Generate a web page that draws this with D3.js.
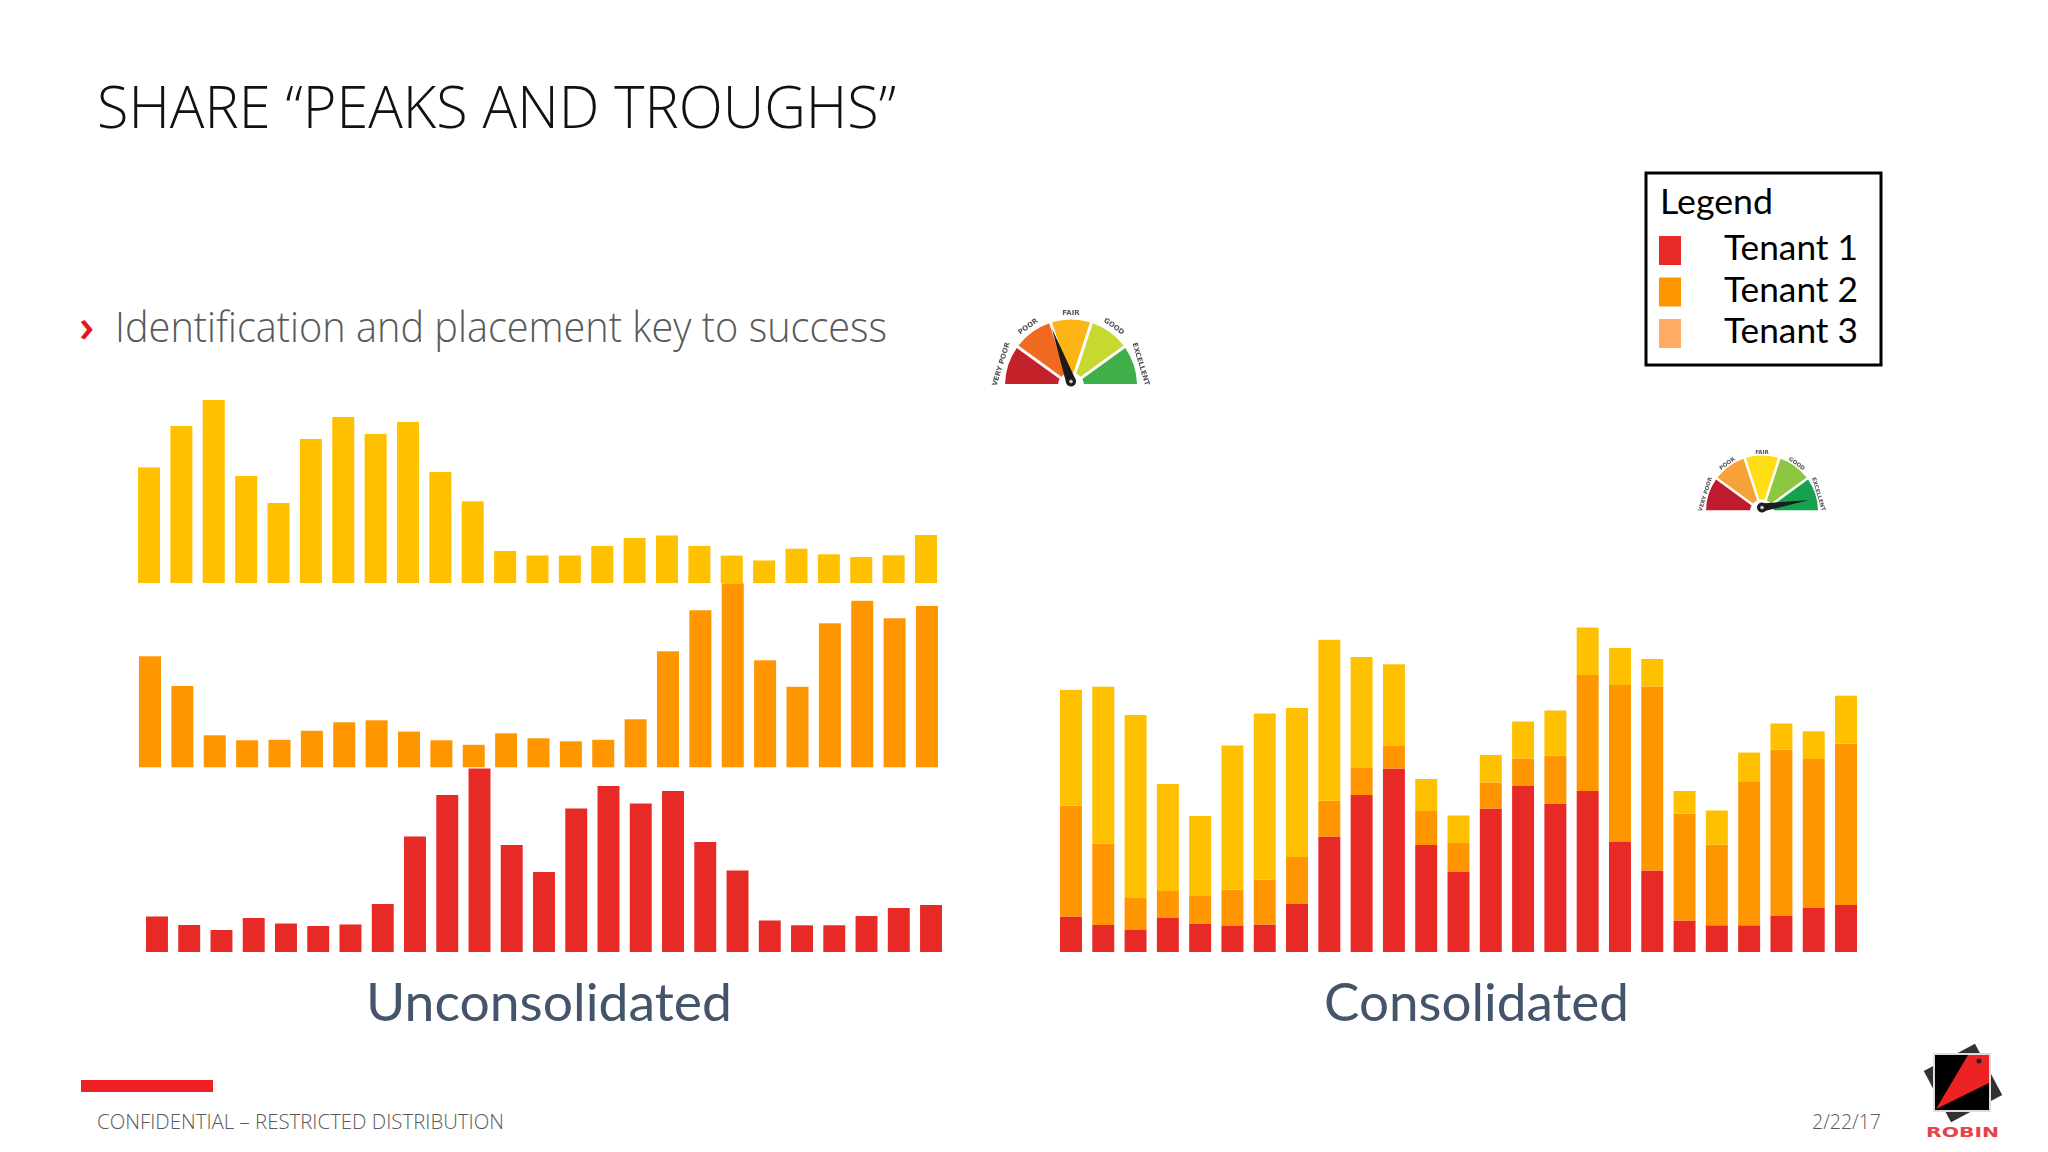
<!DOCTYPE html>
<html>
<head>
<meta charset="utf-8">
<title>Share peaks and troughs</title>
<script src="https://cdn.jsdelivr.net/npm/d3@7/dist/d3.min.js"></script>
<style>
    html, body { margin: 0; padding: 0; background: #fff; }
    svg { display: block; }
</style>
</head>
<body>
<div id="slide"></div>
<script>
// chart values
const periods = d3.range(1, 26);
const tenant1 = [35.5, 27, 22, 34, 28.5, 26, 27.5, 48, 115.5, 157, 183.5, 107, 80, 143.5, 166, 148.5, 161, 110, 81.5, 31.5, 26.7, 26.7, 36, 44, 47];
const tenant2 = [111, 81.3, 32, 27, 27.5, 36.5, 45, 47, 35.7, 27, 22.5, 34, 29, 26, 27.5, 48, 116, 157, 184, 107, 80.5, 144, 166.5, 149, 161.3];
const tenant3 = [115.6, 157, 183, 107, 80, 144, 166, 149, 161, 111, 81.7, 32, 27.5, 27.5, 37, 45, 47.5, 37, 27.5, 22.5, 34.3, 28.7, 26, 27.7, 48];

const tenantNames = ["Tenant 1", "Tenant 2", "Tenant 3"];
const gaugeLabels = ["VERY POOR", "POOR", "FAIR", "GOOD", "EXCELLENT"];
const gaugeReadings = [1.95, 4.75];  // needle position, 0 to 5 segments

const tenantColors = ["#e72a25", "#ff9600", "#ffc000"];
const legendColors = ["#e72a25", "#ff9600", "#ffab66"];

const svgWidth = 2048;
const svgHeight = 1152;

var svg = d3.select("#slide")
    .append("svg")
    .attr("width", svgWidth)
    .attr("height", svgHeight)
    .attr("viewBox", `0 0 ${svgWidth} ${svgHeight}`);

svg.append("rect")
    .attr("width", svgWidth)
    .attr("height", svgHeight)
    .attr("fill", "#fff");

var defs = svg.append("defs");
defs.append("filter")
    .attr("id", "soft")
    .append("feGaussianBlur")
    .attr("stdDeviation", 0.45);

// ------- TEXT HELPER --------
function addText(str, opts) {
    var t = svg.append("text")
        .attr("x", opts.x)
        .attr("y", opts.y)
        .attr("font-family", opts.family || "'Open Sans', sans-serif")
        .attr("font-weight", opts.weight || 300)
        .attr("font-size", opts.size)
        .attr("fill", opts.fill || "#000")
        .text(str);
    if (opts.width) {
        t.attr("textLength", opts.width).attr("lengthAdjust", "spacingAndGlyphs");
    }
    return t;
}

addText("SHARE “PEAKS AND TROUGHS”", { x: 97, y: 128, size: 59, width: 799, fill: "#111" });
addText("›", { x: 79, y: 342, size: 46, weight: 600, fill: "#e8141c" });
addText("Identification and placement key to success", { x: 115, y: 342, size: 42, width: 772, fill: "#595959" });

// ------- BAR PANELS --------
function xScale(left, right) {
    return d3.scaleBand()
        .domain(periods)
        .range([left, right])
        .paddingInner(0.32);
}

function yScale(baseline) {
    return d3.scaleLinear()
        .domain([0, 200])
        .range([baseline, baseline - 200]);
}

function singlePanel(values, color, left, right, baseline) {
    var x = xScale(left, right);
    var y = yScale(baseline);
    svg.append("g")
        .selectAll("rect")
        .data(values)
        .enter()
        .append("rect")
        .attr("x", (d, i) => x(periods[i]))
        .attr("y", d => y(d))
        .attr("width", x.bandwidth())
        .attr("height", d => y(0) - y(d))
        .attr("fill", color);
}

singlePanel(tenant3, tenantColors[2], 138, 937, 583);
singlePanel(tenant2, tenantColors[1], 139, 938, 767.3);
singlePanel(tenant1, tenantColors[0], 146, 942, 952);

// consolidated stack
var rows = periods.map((p, i) => ({ period: p, t1: tenant1[i], t2: tenant2[i], t3: tenant3[i] }));
var stacked = d3.stack().keys(["t1", "t2", "t3"])(rows);
var xStack = xScale(1060, 1857);
var yStack = d3.scaleLinear().domain([0, 400]).range([952, 552]);

svg.append("g")
    .selectAll("g")
    .data(stacked)
    .enter()
    .append("g")
    .attr("fill", (d, i) => tenantColors[i])
    .selectAll("rect")
    .data(d => d)
    .enter()
    .append("rect")
    .attr("x", d => xStack(d.data.period))
    .attr("y", d => yStack(d[1]))
    .attr("width", xStack.bandwidth())
    .attr("height", d => yStack(d[0]) - yStack(d[1]));

const labelFont = "Lato, sans-serif";
addText("Unconsolidated", { x: 366, y: 1021, size: 52, weight: 400, family: labelFont, width: 366, fill: "#44546a" });
addText("Consolidated", { x: 1324, y: 1021, size: 52, weight: 400, family: labelFont, width: 305, fill: "#44546a" });

// ------- LEGEND --------
svg.append("rect")
    .attr("x", 1646)
    .attr("y", 173)
    .attr("width", 235)
    .attr("height", 192)
    .attr("fill", "#fff")
    .attr("stroke", "#000")
    .attr("stroke-width", 3);

addText("Legend", { x: 1660, y: 214, size: 34, weight: 400, family: labelFont, width: 113 });

var legendY = d3.scalePoint().domain(tenantNames).range([248, 331]);

var legendRows = svg.append("g")
    .selectAll("g")
    .data(tenantNames)
    .enter()
    .append("g")
    .attr("transform", d => `translate(0, ${legendY(d)})`);

legendRows.append("rect")
    .attr("x", 1659)
    .attr("y", -12)
    .attr("width", 22)
    .attr("height", 29)
    .attr("fill", (d, i) => legendColors[i]);

legendRows.append("text")
    .attr("x", 1724)
    .attr("y", 12)
    .attr("font-family", labelFont)
    .attr("font-size", 34)
    .attr("textLength", 134)
    .attr("lengthAdjust", "spacingAndGlyphs")
    .attr("fill", "#000")
    .text(d => d);

// ------- GAUGES --------
function drawGauge(cx, cy, outer, inner, colors, reading, fontSize, labelGap, needleWidth) {
    var g = svg.append("g")
        .attr("transform", `translate(${cx}, ${cy})`)
        .attr("filter", "url(#soft)");

    var angle = d3.scaleLinear().domain([0, 5]).range([-Math.PI / 2, Math.PI / 2]);
    var arc = d3.arc()
        .innerRadius(inner)
        .outerRadius(outer)
        .padAngle(0.045)
        .padRadius(outer);

    g.selectAll("path.segment")
        .data(gaugeLabels)
        .enter()
        .append("path")
        .attr("class", "segment")
        .attr("d", (d, i) => arc({ startAngle: angle(i), endAngle: angle(i + 1) }))
        .attr("fill", (d, i) => colors[i]);

    // segment labels sit outside the rim
    g.selectAll("text")
        .data(gaugeLabels)
        .enter()
        .append("text")
        .attr("transform", (d, i) => {
            var deg = (angle(i + 0.5) * 180) / Math.PI;
            if (i == 0) deg = -73;
            if (i == 4) deg = 73;
            return `rotate(${deg}) translate(0, ${-outer - labelGap})`;
        })
        .attr("text-anchor", "middle")
        .attr("font-family", "'DejaVu Sans', sans-serif")
        .attr("font-weight", 700)
        .attr("font-size", fontSize)
        .attr("fill", "#555")
        .text(d => d);

    // needle
    var deg = (angle(reading) * 180) / Math.PI;
    var len = outer * 0.85;
    g.append("g")
        .attr("transform", `translate(0, -4) rotate(${deg})`)
        .call(n => {
            n.append("path")
                .attr("d", d3.line()([[-needleWidth, 0], [0, -len], [needleWidth, 0]]))
                .attr("fill", "#1a1a1a");
            n.append("circle")
                .attr("r", 5)
                .attr("fill", "#1a1a1a");
            n.append("circle")
                .attr("r", 1.8)
                .attr("fill", "#ccc");
        });
}

drawGauge(1071, 385.5, 66, 13, ["#c4202a", "#f26a21", "#fdb515", "#c5d92d", "#3fae49"], gaugeReadings[0], 7, 5, 5);
drawGauge(1762, 511.5, 56, 12, ["#be1e2d", "#f7a13a", "#ffde17", "#8dc63f", "#12a150"], gaugeReadings[1], 5.5, 1.5, 4);

// ------- FOOTER --------
svg.append("rect")
    .attr("x", 81)
    .attr("y", 1080)
    .attr("width", 132)
    .attr("height", 12)
    .attr("fill", "#ed2024");

addText("CONFIDENTIAL – RESTRICTED DISTRIBUTION", { x: 97, y: 1129, size: 21, width: 407, fill: "#595959" });
addText("2/22/17", { x: 1812, y: 1129, size: 21, width: 69, fill: "#595959" });

// ------- LOGO --------
var logo = svg.append("g").attr("filter", "url(#soft)");
logo.append("rect")
    .attr("x", 1934)
    .attr("y", 1054)
    .attr("width", 58)
    .attr("height", 58)
    .attr("fill", "#333")
    .attr("transform", "rotate(-28 1963 1083)");
logo.append("rect")
    .attr("x", 1933)
    .attr("y", 1053)
    .attr("width", 58)
    .attr("height", 59)
    .attr("fill", "#ddd");
logo.append("rect")
    .attr("x", 1935)
    .attr("y", 1055)
    .attr("width", 54)
    .attr("height", 55)
    .attr("fill", "#000");
logo.append("path")
    .attr("d", "M1936 1109 L1968 1055 L1989 1055 L1989 1083 Z")
    .attr("fill", "#ed2024");
logo.append("circle")
    .attr("cx", 1979)
    .attr("cy", 1061)
    .attr("r", 2.5)
    .attr("fill", "#222");

addText("ROBIN", { x: 1926, y: 1137, size: 14.5, weight: 700, family: "'DejaVu Sans', sans-serif", width: 73, fill: "#e8414a" });
</script>
</body>
</html>
